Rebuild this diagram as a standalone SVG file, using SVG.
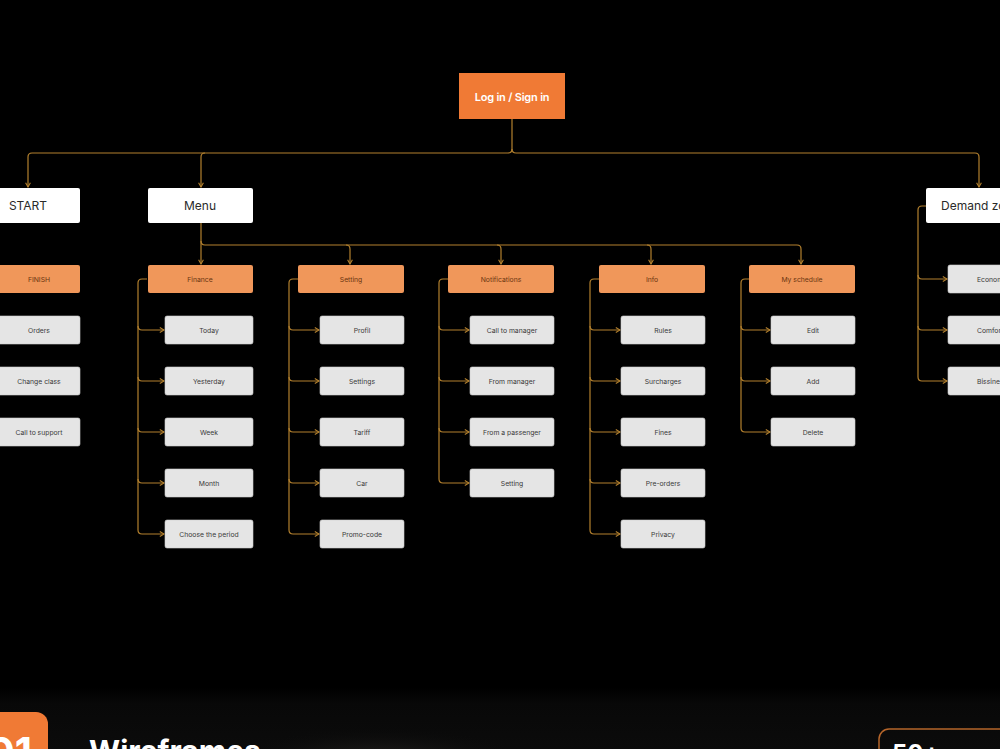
<svg xmlns="http://www.w3.org/2000/svg" width="1000" height="749" viewBox="0 0 1000 749">
<defs>
<style>
.c{fill:none;stroke:#B3802E;stroke-width:1.2}
.a{marker-end:url(#arr)}
.t{font-family:Inter,"Liberation Sans",sans-serif;text-anchor:middle}
.w{fill:#FFFFFF}
.o{fill:#F0975A}
.g{fill:#E5E5E5;stroke:#CFCFCF;stroke-width:0.6}
.big{font-size:12px;fill:#2a2a2a}
.sm{font-size:6.8px;fill:#3a3a3a}
.so{font-size:6.8px;fill:#6a3510}
</style>
<marker id="arr" viewBox="0 0 6 6" refX="5.2" refY="3" markerWidth="6" markerHeight="6" markerUnits="userSpaceOnUse" orient="auto">
<path d="M1,0.6 L5.2,3 L1,5.4" fill="none" stroke="#B3802E" stroke-width="1.1"/>
</marker>
<linearGradient id="band" x1="0" y1="0" x2="0" y2="1">
<stop offset="0" stop-color="#000"/>
<stop offset="0.25" stop-color="#080808"/>
<stop offset="1" stop-color="#0b0b0b"/>
</linearGradient>
<radialGradient id="glow" cx="0.5" cy="0.5" r="0.5">
<stop offset="0" stop-color="#2c2a27" stop-opacity="0.9"/>
<stop offset="1" stop-color="#0b0b0b" stop-opacity="0"/>
</radialGradient>
</defs>
<rect width="1000" height="749" fill="#000"/>
<rect x="0" y="688" width="1000" height="61" fill="url(#band)"/>
<ellipse cx="380" cy="762" rx="150" ry="34" fill="url(#glow)"/>

<g id="connectors">
<path class="c a" d="M512,119 V149 Q512,153 508,153 H32 Q28,153 28,157 V187"/>
<path class="c a" d="M512,149 Q512,153 516,153 H975 Q979,153 979,157 V187"/>
<path class="c a" d="M205,153 Q201,153 201,157 V187"/>
<path class="c a" d="M201,223 V264"/>
<path class="c a" d="M201,241 Q201,245 205,245 H797 Q801,245 801,249 V264"/>
<path class="c a" d="M346,245 Q350,245 350,249 V264"/>
<path class="c a" d="M497,245 Q501,245 501,249 V264"/>
<path class="c a" d="M647,245 Q651,245 651,249 V264"/>
<path class="c a" d="M147,279 H142 Q138,279 138,283 V530 Q138,534 142,534 H164"/>
<path class="c a" d="M138,326 Q138,330 142,330 H164"/>
<path class="c a" d="M138,377 Q138,381 142,381 H164"/>
<path class="c a" d="M138,428 Q138,432 142,432 H164"/>
<path class="c a" d="M138,479 Q138,483 142,483 H164"/>
<path class="c a" d="M298,279 H293 Q289,279 289,283 V530 Q289,534 293,534 H319"/>
<path class="c a" d="M289,326 Q289,330 293,330 H319"/>
<path class="c a" d="M289,377 Q289,381 293,381 H319"/>
<path class="c a" d="M289,428 Q289,432 293,432 H319"/>
<path class="c a" d="M289,479 Q289,483 293,483 H319"/>
<path class="c a" d="M448,279 H443 Q439,279 439,283 V479 Q439,483 443,483 H469"/>
<path class="c a" d="M439,326 Q439,330 443,330 H469"/>
<path class="c a" d="M439,377 Q439,381 443,381 H469"/>
<path class="c a" d="M439,428 Q439,432 443,432 H469"/>
<path class="c a" d="M599,279 H594 Q590,279 590,283 V530 Q590,534 594,534 H620"/>
<path class="c a" d="M590,326 Q590,330 594,330 H620"/>
<path class="c a" d="M590,377 Q590,381 594,381 H620"/>
<path class="c a" d="M590,428 Q590,432 594,432 H620"/>
<path class="c a" d="M590,479 Q590,483 594,483 H620"/>
<path class="c a" d="M749,279 H745 Q741,279 741,283 V428 Q741,432 745,432 H770"/>
<path class="c a" d="M741,326 Q741,330 745,330 H770"/>
<path class="c a" d="M741,377 Q741,381 745,381 H770"/>
<path class="c a" d="M926,206 H922 Q918,206 918,210 V377 Q918,381 922,381 H947"/>
<path class="c a" d="M918,275 Q918,279 922,279 H947"/>
<path class="c a" d="M918,326 Q918,330 922,330 H947"/>
</g>

<g id="login"><rect x="459" y="73" width="106" height="46" fill="#F07A35"/><text class="t" x="512" y="100.5" font-size="11" letter-spacing="-0.2" font-weight="600" fill="#fff">Log in / Sign in</text></g>

<g id="start"><rect x="-25" y="188" width="105" height="35" rx="2" class="w"/><text class="t big" x="28" y="210">START</text></g>
<g id="menu"><rect x="148" y="188" width="105" height="35" rx="2" class="w"/><text class="t big" x="200" y="210">Menu</text></g>
<g id="demand"><rect x="926" y="188" width="110" height="35" rx="2" class="w"/><text class="big" font-family="Inter,'Liberation Sans',sans-serif" x="941" y="210">Demand zone</text></g>

<g id="finish"><rect x="-4" y="265" width="84" height="28" rx="2" class="o"/><text class="t so" x="39" y="281.5">FINISH</text></g>
<g id="orders"><rect x="-4" y="316" width="84" height="28" rx="2" class="g"/><text class="t sm" x="39" y="332.5">Orders</text></g>
<g id="changeclass"><rect x="-4" y="367" width="84" height="28" rx="2" class="g"/><text class="t sm" x="39" y="383.5">Change class</text></g>
<g id="callsupport"><rect x="-4" y="418" width="84" height="28" rx="2" class="g"/><text class="t sm" x="39" y="434.5">Call to support</text></g>

<g id="finance"><rect x="148" y="265" width="105" height="28" rx="2" class="o"/><text class="t so" x="200" y="281.5">Finance</text></g>
<g id="today"><rect x="165" y="316" width="88" height="28" rx="2" class="g"/><text class="t sm" x="209" y="332.5">Today</text></g>
<g id="yesterday"><rect x="165" y="367" width="88" height="28" rx="2" class="g"/><text class="t sm" x="209" y="383.5">Yesterday</text></g>
<g id="week"><rect x="165" y="418" width="88" height="28" rx="2" class="g"/><text class="t sm" x="209" y="434.5">Week</text></g>
<g id="month"><rect x="165" y="469" width="88" height="28" rx="2" class="g"/><text class="t sm" x="209" y="485.5">Month</text></g>
<g id="period"><rect x="165" y="520" width="88" height="28" rx="2" class="g"/><text class="t sm" x="209" y="536.5">Choose the period</text></g>

<g id="setting"><rect x="298" y="265" width="106" height="28" rx="2" class="o"/><text class="t so" x="351" y="281.5">Setting</text></g>
<g id="profil"><rect x="320" y="316" width="84" height="28" rx="2" class="g"/><text class="t sm" x="362" y="332.5">Profil</text></g>
<g id="settings"><rect x="320" y="367" width="84" height="28" rx="2" class="g"/><text class="t sm" x="362" y="383.5">Settings</text></g>
<g id="tariff"><rect x="320" y="418" width="84" height="28" rx="2" class="g"/><text class="t sm" x="362" y="434.5">Tariff</text></g>
<g id="car"><rect x="320" y="469" width="84" height="28" rx="2" class="g"/><text class="t sm" x="362" y="485.5">Car</text></g>
<g id="promo"><rect x="320" y="520" width="84" height="28" rx="2" class="g"/><text class="t sm" x="362" y="536.5">Promo-code</text></g>

<g id="notifications"><rect x="448" y="265" width="106" height="28" rx="2" class="o"/><text class="t so" x="501" y="281.5">Notifications</text></g>
<g id="callmanager"><rect x="470" y="316" width="84" height="28" rx="2" class="g"/><text class="t sm" x="512" y="332.5">Call to manager</text></g>
<g id="frommanager"><rect x="470" y="367" width="84" height="28" rx="2" class="g"/><text class="t sm" x="512" y="383.5">From manager</text></g>
<g id="frompassenger"><rect x="470" y="418" width="84" height="28" rx="2" class="g"/><text class="t sm" x="512" y="434.5">From a passenger</text></g>
<g id="notifsetting"><rect x="470" y="469" width="84" height="28" rx="2" class="g"/><text class="t sm" x="512" y="485.5">Setting</text></g>

<g id="info"><rect x="599" y="265" width="106" height="28" rx="2" class="o"/><text class="t so" x="652" y="281.5">Info</text></g>
<g id="rules"><rect x="621" y="316" width="84" height="28" rx="2" class="g"/><text class="t sm" x="663" y="332.5">Rules</text></g>
<g id="surcharges"><rect x="621" y="367" width="84" height="28" rx="2" class="g"/><text class="t sm" x="663" y="383.5">Surcharges</text></g>
<g id="fines"><rect x="621" y="418" width="84" height="28" rx="2" class="g"/><text class="t sm" x="663" y="434.5">Fines</text></g>
<g id="preorders"><rect x="621" y="469" width="84" height="28" rx="2" class="g"/><text class="t sm" x="663" y="485.5">Pre-orders</text></g>
<g id="privacy"><rect x="621" y="520" width="84" height="28" rx="2" class="g"/><text class="t sm" x="663" y="536.5">Privacy</text></g>

<g id="schedule"><rect x="749" y="265" width="106" height="28" rx="2" class="o"/><text class="t so" x="802" y="281.5">My schedule</text></g>
<g id="edit"><rect x="771" y="316" width="84" height="28" rx="2" class="g"/><text class="t sm" x="813" y="332.5">Edit</text></g>
<g id="add"><rect x="771" y="367" width="84" height="28" rx="2" class="g"/><text class="t sm" x="813" y="383.5">Add</text></g>
<g id="delete"><rect x="771" y="418" width="84" height="28" rx="2" class="g"/><text class="t sm" x="813" y="434.5">Delete</text></g>

<g id="economy"><rect x="948" y="265" width="90" height="28" rx="2" class="g"/><text class="sm" font-family="Inter,'Liberation Sans',sans-serif" x="977" y="281.5">Economy</text></g>
<g id="comfort"><rect x="948" y="316" width="90" height="28" rx="2" class="g"/><text class="sm" font-family="Inter,'Liberation Sans',sans-serif" x="977" y="332.5">Comfort</text></g>
<g id="bissiness"><rect x="948" y="367" width="90" height="28" rx="2" class="g"/><text class="sm" font-family="Inter,'Liberation Sans',sans-serif" x="977" y="383.5">Bissiness</text></g>

<g id="footer">
<rect x="-20" y="712" width="68" height="70" rx="12" fill="#F07A35"/>
<text x="32" y="766" text-anchor="end" font-family="Inter,'Liberation Sans',sans-serif" font-size="40" font-weight="700" fill="#fff">01</text>
<text x="89" y="762" font-family="Inter,'Liberation Sans',sans-serif" font-size="30" font-weight="700" fill="#fff">Wireframes</text>
<rect x="879" y="729" width="200" height="50" rx="10" fill="none" stroke="#B5652A" stroke-width="1.5"/>
<text x="892" y="762" font-family="Inter,'Liberation Sans',sans-serif" font-size="24" font-weight="700" fill="#fff">50+ screens</text>
</g>
</svg>
